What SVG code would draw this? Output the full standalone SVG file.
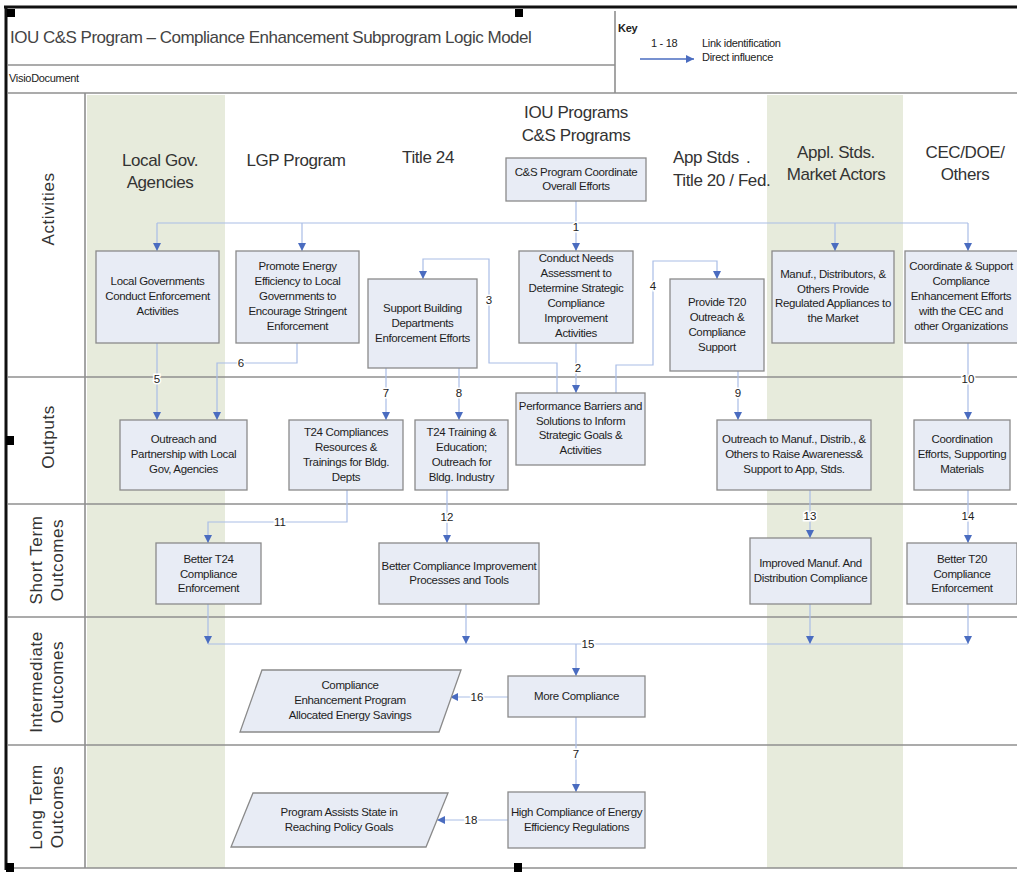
<svg xmlns="http://www.w3.org/2000/svg" width="1017" height="872" viewBox="0 0 1017 872">
  <defs>
    <marker id="arr" markerUnits="userSpaceOnUse" markerWidth="8" markerHeight="9" viewBox="0 0 10 10" refX="10" refY="5" orient="auto">
      <path d="M0,0 L10,5 L0,10 z" fill="#4a6cc0"/>
    </marker>
    <style>
      .lane { stroke: #8f8f8f; stroke-width: 1.6; fill: none; }
      .band { fill: #e7ebdc; }
      .node { fill: #e8ecf5; stroke: #8a8a8a; stroke-width: 1.3; }
      .nt { font-family: "Liberation Sans", Arial, sans-serif; font-size: 11.5px; letter-spacing: -0.35px; fill: #1e1e1e; text-anchor: middle; }
      .hd { font-family: "Liberation Sans", Arial, sans-serif; font-size: 17px; letter-spacing: -0.4px; fill: #333; text-anchor: middle; }
      .hd-left { font-family: "Liberation Sans", Arial, sans-serif; font-size: 17px; letter-spacing: -0.4px; fill: #333; text-anchor: start; }
      .row { font-family: "Liberation Sans", Arial, sans-serif; font-size: 17px; letter-spacing: 0.6px; fill: #333; text-anchor: middle; }
      .cn { stroke: #a9bde6; stroke-width: 1.2; fill: none; }
      .lbl { font-family: "Liberation Sans", Arial, sans-serif; font-size: 11.5px; fill: #222; text-anchor: middle; stroke: #ffffff; stroke-width: 3px; paint-order: stroke; }
      .sm { font-family: "Liberation Sans", Arial, sans-serif; font-size: 11px; letter-spacing: -0.3px; fill: #222; }
    </style>
  </defs>

  <rect x="0" y="0" width="1017" height="872" fill="#ffffff"/>

  <!-- shaded stakeholder columns -->
  <rect class="band" x="87" y="95" width="138" height="773"/>
  <rect class="band" x="767" y="95" width="136" height="773"/>

  <!-- header block -->
  <g id="header">
    <line class="lane" x1="8" y1="65" x2="615" y2="65"/>
    <line class="lane" x1="615" y1="11" x2="615" y2="93"/>
    <line class="lane" x1="8" y1="93" x2="1017" y2="93"/>
    <text x="10" y="43" font-family="'Liberation Sans', Arial, sans-serif" font-size="17" letter-spacing="-0.5" fill="#444">IOU C&amp;S Program – Compliance Enhancement Subprogram Logic Model</text>
    <text class="sm" x="9" y="82" font-size="10.5">VisioDocument</text>
    <text class="sm" x="618" y="32" font-weight="bold">Key</text>
    <text class="sm" x="651" y="47">1 - 18</text>
    <text class="sm" x="702" y="47">Link identification</text>
    <line x1="640" y1="59" x2="694" y2="59" stroke="#4a6cc0" stroke-width="1.5" marker-end="url(#arr)"/>
    <text class="sm" x="702" y="61">Direct influence</text>
  </g>

  <!-- swimlane grid -->
  <g id="lanes">
    <line class="lane" x1="85" y1="93" x2="85" y2="868"/>
    <line class="lane" x1="8" y1="377" x2="1017" y2="377"/>
    <line class="lane" x1="8" y1="504" x2="1017" y2="504"/>
    <line class="lane" x1="8" y1="617" x2="1017" y2="617"/>
    <line class="lane" x1="8" y1="745" x2="1017" y2="745"/>
    <line class="lane" x1="8" y1="868" x2="1017" y2="868"/>
    <text class="row" transform="translate(54,209) rotate(-90)">Activities</text>
    <text class="row" transform="translate(54,437) rotate(-90)">Outputs</text>
    <text class="row" transform="translate(46,560) rotate(-90)"><tspan x="0" y="-4">Short Term</tspan><tspan x="0" y="17">Outcomes</tspan></text>
    <text class="row" transform="translate(46,682) rotate(-90)"><tspan x="0" y="-4">Intermediate</tspan><tspan x="0" y="17">Outcomes</tspan></text>
    <text class="row" transform="translate(46,807) rotate(-90)"><tspan x="0" y="-4">Long Term</tspan><tspan x="0" y="17">Outcomes</tspan></text>
  </g>

  <!-- column headers -->
  <g id="columns">
    <text class="hd" x="160" y="166">Local Gov.</text>
    <text class="hd" x="160" y="188">Agencies</text>
    <text class="hd" x="296" y="166">LGP Program</text>
    <text class="hd" x="428" y="163">Title 24</text>
    <text class="hd" x="576" y="118">IOU Programs</text>
    <text class="hd" x="576" y="141">C&amp;S Programs</text>
    <text class="hd-left" x="673" y="163">App Stds<tspan x="746">.</tspan></text>
    <text class="hd-left" x="673" y="186">Title 20 / Fed.</text>
    <text class="hd" x="836" y="158">Appl. Stds.</text>
    <text class="hd" x="836" y="180">Market Actors</text>
    <text class="hd" x="965" y="158">CEC/DOE/</text>
    <text class="hd" x="965" y="180">Others</text>
  </g>

  <!-- connectors -->
  <g id="connectors">
    <!-- 1 -->
    <polyline class="cn" points="576,201 576,223"/>
    <polyline class="cn" points="157,223 968,223"/>
    <polyline class="cn" points="157,223 157,251" marker-end="url(#arr)"/>
    <polyline class="cn" points="302,223 302,251" marker-end="url(#arr)"/>
    <polyline class="cn" points="576,223 576,251" marker-end="url(#arr)"/>
    <polyline class="cn" points="835,223 835,251" marker-end="url(#arr)"/>
    <polyline class="cn" points="968,223 968,251" marker-end="url(#arr)"/>
    <!-- 2 -->
    <polyline class="cn" points="576,343 576,393" marker-end="url(#arr)"/>
    <!-- 3 -->
    <polyline class="cn" points="557,393 557,363 489,363 489,259 423,259 423,279" marker-end="url(#arr)"/>
    <!-- 4 -->
    <polyline class="cn" points="616,393 616,365 653,365 653,261 717,261 717,279" marker-end="url(#arr)"/>
    <!-- 5 -->
    <polyline class="cn" points="157,343 157,420" marker-end="url(#arr)"/>
    <!-- 6 -->
    <polyline class="cn" points="297,343 297,363 217,363 217,420" marker-end="url(#arr)"/>
    <!-- 7, 8 -->
    <polyline class="cn" points="386,368 386,420" marker-end="url(#arr)"/>
    <polyline class="cn" points="459,368 459,420" marker-end="url(#arr)"/>
    <!-- 9 -->
    <polyline class="cn" points="738,371 738,420" marker-end="url(#arr)"/>
    <!-- 10 -->
    <polyline class="cn" points="968,343 968,420" marker-end="url(#arr)"/>
    <!-- 11 -->
    <polyline class="cn" points="347,490 347,522 208,522 208,543" marker-end="url(#arr)"/>
    <!-- 12 -->
    <polyline class="cn" points="447,490 447,543" marker-end="url(#arr)"/>
    <!-- 13 -->
    <polyline class="cn" points="810,490 810,538" marker-end="url(#arr)"/>
    <!-- 14 -->
    <polyline class="cn" points="968,490 968,543" marker-end="url(#arr)"/>
    <!-- 15 -->
    <polyline class="cn" points="208,604 208,644" marker-end="url(#arr)"/>
    <polyline class="cn" points="466,604 466,644" marker-end="url(#arr)"/>
    <polyline class="cn" points="810,604 810,644" marker-end="url(#arr)"/>
    <polyline class="cn" points="968,604 968,644" marker-end="url(#arr)"/>
    <polyline class="cn" points="208,644 968,644"/>
    <polyline class="cn" points="576,644 576,676" marker-end="url(#arr)"/>
    <!-- 16 -->
    <polyline class="cn" points="508,697 450,697" marker-end="url(#arr)"/>
    <!-- 7 (intermediate to long term) -->
    <polyline class="cn" points="576,717 576,792" marker-end="url(#arr)"/>
    <!-- 18 -->
    <polyline class="cn" points="508,820 437,820" marker-end="url(#arr)"/>

    <text class="lbl" x="576" y="231">1</text>
    <text class="lbl" x="578" y="372">2</text>
    <text class="lbl" x="489" y="304">3</text>
    <text class="lbl" x="653" y="290">4</text>
    <text class="lbl" x="157" y="383">5</text>
    <text class="lbl" x="241" y="367">6</text>
    <text class="lbl" x="386" y="397">7</text>
    <text class="lbl" x="459" y="397">8</text>
    <text class="lbl" x="738" y="397">9</text>
    <text class="lbl" x="968" y="383">10</text>
    <text class="lbl" x="280" y="526">11</text>
    <text class="lbl" x="447" y="521">12</text>
    <text class="lbl" x="810" y="520">13</text>
    <text class="lbl" x="968" y="520">14</text>
    <text class="lbl" x="588" y="648">15</text>
    <text class="lbl" x="477" y="701">16</text>
    <text class="lbl" x="576" y="758">7</text>
    <text class="lbl" x="471" y="824">18</text>
  </g>

  <!-- activities -->
  <g id="cs-coordinate">
    <rect class="node" x="506" y="158" width="140" height="43"/>
    <text class="nt"><tspan x="576" y="176">C&amp;S Program Coordinate</tspan><tspan x="576" y="190">Overall Efforts</tspan></text>
  </g>
  <g id="local-gov-enforcement">
    <rect class="node" x="96" y="251" width="123" height="92"/>
    <text class="nt"><tspan x="157.5" y="285">Local Governments</tspan><tspan x="157.5" y="300">Conduct Enforcement</tspan><tspan x="157.5" y="315">Activities</tspan></text>
  </g>
  <g id="promote-ee">
    <rect class="node" x="236" y="251" width="123" height="92"/>
    <text class="nt"><tspan x="297.5" y="270">Promote Energy</tspan><tspan x="297.5" y="285">Efficiency to Local</tspan><tspan x="297.5" y="300">Governments to</tspan><tspan x="297.5" y="315">Encourage Stringent</tspan><tspan x="297.5" y="330">Enforcement</tspan></text>
  </g>
  <g id="support-bldg-depts">
    <rect class="node" x="368" y="279" width="109" height="89"/>
    <text class="nt"><tspan x="422.5" y="312">Support Building</tspan><tspan x="422.5" y="327">Departments</tspan><tspan x="422.5" y="342">Enforcement Efforts</tspan></text>
  </g>
  <g id="needs-assessment">
    <rect class="node" x="519" y="251" width="114" height="92"/>
    <text class="nt"><tspan x="576" y="262">Conduct Needs</tspan><tspan x="576" y="277">Assessment to</tspan><tspan x="576" y="292">Determine Strategic</tspan><tspan x="576" y="307">Compliance</tspan><tspan x="576" y="322">Improvement</tspan><tspan x="576" y="337">Activities</tspan></text>
  </g>
  <g id="t20-outreach">
    <rect class="node" x="670" y="279" width="94" height="92"/>
    <text class="nt"><tspan x="717" y="306">Provide T20</tspan><tspan x="717" y="321">Outreach &amp;</tspan><tspan x="717" y="336">Compliance</tspan><tspan x="717" y="351">Support</tspan></text>
  </g>
  <g id="manuf-distributors">
    <rect class="node" x="772" y="251" width="122" height="92"/>
    <text class="nt"><tspan x="833" y="278">Manuf., Distributors, &amp;</tspan><tspan x="833" y="293">Others Provide</tspan><tspan x="833" y="307">Regulated Appliances to</tspan><tspan x="833" y="322">the Market</tspan></text>
  </g>
  <g id="coordinate-support">
    <rect class="node" x="905" y="251" width="114" height="92"/>
    <text class="nt"><tspan x="961" y="270">Coordinate &amp; Support</tspan><tspan x="961" y="285">Compliance</tspan><tspan x="961" y="300">Enhancement Efforts</tspan><tspan x="961" y="315">with the CEC and</tspan><tspan x="961" y="330">other Organizations</tspan></text>
  </g>

  <!-- outputs -->
  <g id="outreach-local-gov">
    <rect class="node" x="120" y="420" width="127" height="70"/>
    <text class="nt"><tspan x="183.5" y="443">Outreach and</tspan><tspan x="183.5" y="458">Partnership with Local</tspan><tspan x="183.5" y="473">Gov, Agencies</tspan></text>
  </g>
  <g id="t24-resources">
    <rect class="node" x="289" y="420" width="114" height="70"/>
    <text class="nt"><tspan x="346" y="436">T24 Compliances</tspan><tspan x="346" y="451">Resources &amp;</tspan><tspan x="346" y="466">Trainings for Bldg.</tspan><tspan x="346" y="481">Depts</tspan></text>
  </g>
  <g id="t24-training">
    <rect class="node" x="415" y="420" width="93" height="70"/>
    <text class="nt"><tspan x="461.5" y="436">T24 Training &amp;</tspan><tspan x="461.5" y="451">Education;</tspan><tspan x="461.5" y="466">Outreach for</tspan><tspan x="461.5" y="481">Bldg. Industry</tspan></text>
  </g>
  <g id="performance-barriers">
    <rect class="node" x="516" y="393" width="129" height="72"/>
    <text class="nt"><tspan x="580.5" y="410">Performance Barriers and</tspan><tspan x="580.5" y="425">Solutions to Inform</tspan><tspan x="580.5" y="439">Strategic Goals &amp;</tspan><tspan x="580.5" y="454">Activities</tspan></text>
  </g>
  <g id="outreach-manuf">
    <rect class="node" x="717" y="420" width="154" height="70"/>
    <text class="nt"><tspan x="794" y="443">Outreach to Manuf., Distrib., &amp;</tspan><tspan x="794" y="458">Others to  Raise Awareness&amp;</tspan><tspan x="794" y="473">Support to App, Stds.</tspan></text>
  </g>
  <g id="coordination-efforts">
    <rect class="node" x="914" y="420" width="96" height="70"/>
    <text class="nt"><tspan x="962" y="443">Coordination</tspan><tspan x="962" y="458">Efforts, Supporting</tspan><tspan x="962" y="473">Materials</tspan></text>
  </g>

  <!-- short term outcomes -->
  <g id="better-t24">
    <rect class="node" x="156" y="543" width="105" height="61"/>
    <text class="nt"><tspan x="208.5" y="563">Better T24</tspan><tspan x="208.5" y="578">Compliance</tspan><tspan x="208.5" y="592">Enforcement</tspan></text>
  </g>
  <g id="better-processes">
    <rect class="node" x="379" y="543" width="160" height="61"/>
    <text class="nt"><tspan x="459" y="570">Better Compliance Improvement</tspan><tspan x="459" y="584">Processes and Tools</tspan></text>
  </g>
  <g id="improved-manuf">
    <rect class="node" x="750" y="538" width="121" height="66"/>
    <text class="nt"><tspan x="810.5" y="567">Improved Manuf. And</tspan><tspan x="810.5" y="582">Distribution Compliance</tspan></text>
  </g>
  <g id="better-t20">
    <rect class="node" x="907" y="543" width="110" height="61"/>
    <text class="nt"><tspan x="962" y="563">Better T20</tspan><tspan x="962" y="578">Compliance</tspan><tspan x="962" y="592">Enforcement</tspan></text>
  </g>

  <!-- intermediate outcomes -->
  <g id="more-compliance">
    <rect class="node" x="508" y="676" width="137" height="41"/>
    <text class="nt" x="576.5" y="700">More Compliance</text>
  </g>
  <g id="allocated-savings">
    <polygon class="node" points="262,670 461,670 439,732 240,732"/>
    <text class="nt"><tspan x="350" y="689">Compliance</tspan><tspan x="350" y="704">Enhancement Program</tspan><tspan x="350" y="719">Allocated Energy Savings</tspan></text>
  </g>

  <!-- long term outcomes -->
  <g id="high-compliance">
    <rect class="node" x="508" y="792" width="137" height="56"/>
    <text class="nt"><tspan x="576.5" y="816">High Compliance of Energy</tspan><tspan x="576.5" y="831">Efficiency Regulations</tspan></text>
  </g>
  <g id="policy-goals">
    <polygon class="node" points="253,793 448,793 426,847 231,847"/>
    <text class="nt"><tspan x="339" y="816">Program  Assists State in</tspan><tspan x="339" y="831">Reaching Policy Goals</tspan></text>
  </g>

  <!-- page frame and handles -->
  <g id="frame">
    <line x1="4" y1="7" x2="1017" y2="7" stroke="#111" stroke-width="3"/>
    <line x1="6" y1="6" x2="6" y2="870" stroke="#111" stroke-width="3"/>
    <rect x="7" y="9" width="8" height="8" fill="#000"/>
    <rect x="515" y="9" width="8" height="8" fill="#000"/>
    <rect x="6" y="436" width="8" height="9" fill="#000"/>
    <rect x="6" y="863" width="8" height="9" fill="#000"/>
    <rect x="514" y="863" width="8" height="9" fill="#000"/>
  </g>
</svg>
